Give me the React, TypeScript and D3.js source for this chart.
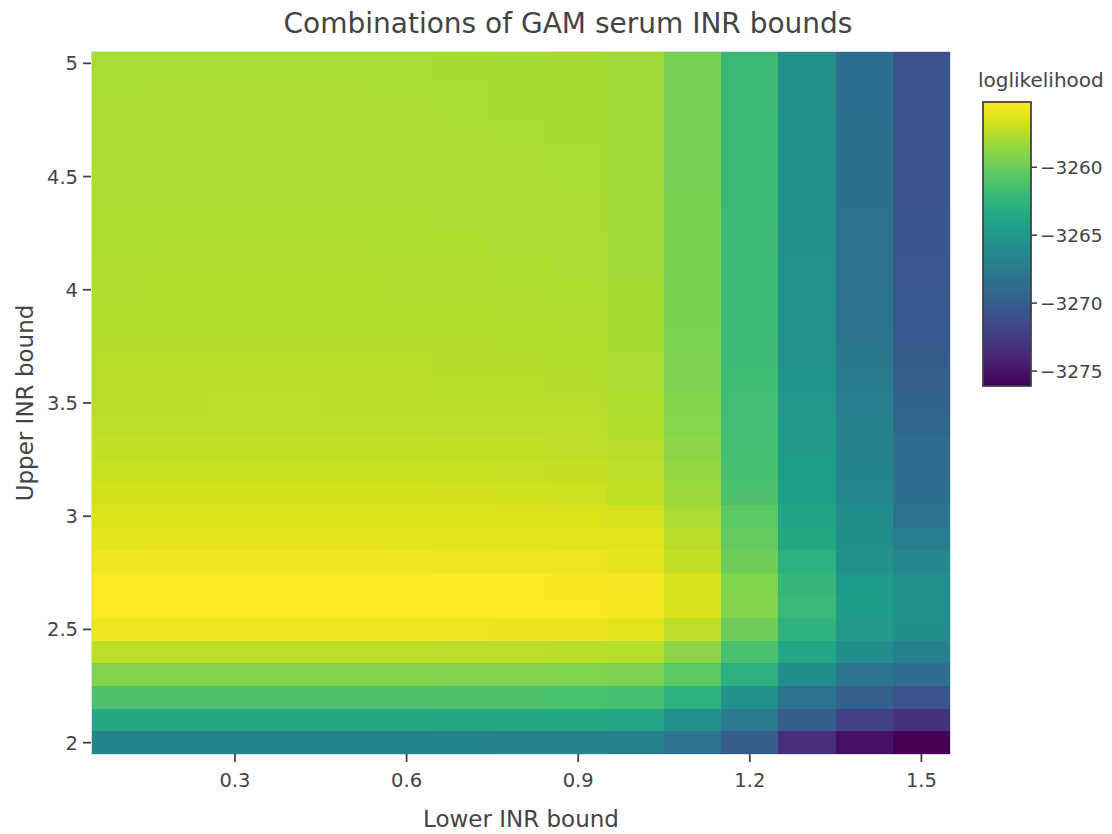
import React from 'react';
import * as d3 from 'd3';

// ---------- DATA ----------
const lowerBounds: number[] = [0.1, 0.2, 0.3, 0.4, 0.5, 0.6, 0.7, 0.8, 0.9, 1.0, 1.1, 1.2, 1.3, 1.4, 1.5];
const upperBounds: number[] = [
  2.0, 2.1, 2.2, 2.3, 2.4, 2.5, 2.6, 2.7, 2.8, 2.9,
  3.0, 3.1, 3.2, 3.3, 3.4, 3.5, 3.6, 3.7, 3.8, 3.9,
  4.0, 4.1, 4.2, 4.3, 4.4, 4.5, 4.6, 4.7, 4.8, 4.9, 5.0,
];
// one row per upper bound (2.0 .. 5.0), one value per lower bound (0.1 .. 1.5)
const loglikelihood: number[][] = [
  [-3266.80, -3266.79, -3266.78, -3266.78, -3266.79, -3266.80, -3266.81, -3266.83, -3266.85, -3267.10, -3268.20, -3270.05, -3273.40, -3275.25, -3276.10],
  [-3263.55, -3263.54, -3263.53, -3263.53, -3263.54, -3263.55, -3263.56, -3263.58, -3263.60, -3263.90, -3265.65, -3267.50, -3270.00, -3272.10, -3273.20],
  [-3261.20, -3261.19, -3261.18, -3261.18, -3261.19, -3261.20, -3261.21, -3261.23, -3261.25, -3261.40, -3262.70, -3265.65, -3268.20, -3269.70, -3270.80],
  [-3259.20, -3259.19, -3259.18, -3259.18, -3259.19, -3259.20, -3259.21, -3259.23, -3259.25, -3259.40, -3260.50, -3262.80, -3266.00, -3268.05, -3268.60],
  [-3257.40, -3257.39, -3257.38, -3257.38, -3257.39, -3257.40, -3257.41, -3257.43, -3257.45, -3257.60, -3258.85, -3261.30, -3263.80, -3266.00, -3267.00],
  [-3255.80, -3255.79, -3255.78, -3255.78, -3255.79, -3255.80, -3255.81, -3255.83, -3255.85, -3256.10, -3257.30, -3259.90, -3262.60, -3264.90, -3265.90],
  [-3255.22, -3255.21, -3255.20, -3255.20, -3255.21, -3255.22, -3255.23, -3255.25, -3255.27, -3255.50, -3256.55, -3259.20, -3262.10, -3264.60, -3265.65],
  [-3255.24, -3255.23, -3255.22, -3255.22, -3255.23, -3255.24, -3255.25, -3255.27, -3255.29, -3255.52, -3256.58, -3259.25, -3262.30, -3264.65, -3265.70],
  [-3255.70, -3255.69, -3255.68, -3255.68, -3255.69, -3255.70, -3255.72, -3255.75, -3255.77, -3256.00, -3257.20, -3259.90, -3262.80, -3265.65, -3266.60],
  [-3256.00, -3255.99, -3255.98, -3255.98, -3255.99, -3256.00, -3256.02, -3256.05, -3256.07, -3256.25, -3257.50, -3260.20, -3263.60, -3265.90, -3267.30],
  [-3256.35, -3256.34, -3256.33, -3256.33, -3256.34, -3256.35, -3256.37, -3256.40, -3256.42, -3256.60, -3257.90, -3260.50, -3264.00, -3266.10, -3268.20],
  [-3256.70, -3256.69, -3256.68, -3256.68, -3256.69, -3256.70, -3256.72, -3256.75, -3256.77, -3257.20, -3258.40, -3261.20, -3264.30, -3266.50, -3268.60],
  [-3257.00, -3256.99, -3256.98, -3256.98, -3256.99, -3257.00, -3257.02, -3257.05, -3257.07, -3257.40, -3258.65, -3261.40, -3264.50, -3266.70, -3268.70],
  [-3257.20, -3257.19, -3257.18, -3257.18, -3257.19, -3257.20, -3257.22, -3257.25, -3257.28, -3257.55, -3258.85, -3261.50, -3264.70, -3266.90, -3268.80],
  [-3257.35, -3257.34, -3257.33, -3257.33, -3257.34, -3257.35, -3257.37, -3257.40, -3257.43, -3257.70, -3259.10, -3261.60, -3264.90, -3267.10, -3269.20],
  [-3257.45, -3257.44, -3257.43, -3257.43, -3257.44, -3257.45, -3257.47, -3257.50, -3257.53, -3257.80, -3259.20, -3261.70, -3265.10, -3267.30, -3269.60],
  [-3257.55, -3257.54, -3257.53, -3257.53, -3257.54, -3257.55, -3257.57, -3257.60, -3257.63, -3257.90, -3259.30, -3261.80, -3265.35, -3267.60, -3269.90],
  [-3257.60, -3257.59, -3257.58, -3257.58, -3257.59, -3257.60, -3257.62, -3257.65, -3257.68, -3257.95, -3259.40, -3261.90, -3265.45, -3267.85, -3270.10],
  [-3257.65, -3257.64, -3257.63, -3257.63, -3257.64, -3257.65, -3257.67, -3257.70, -3257.73, -3258.00, -3259.43, -3261.92, -3265.50, -3268.00, -3270.25],
  [-3257.70, -3257.69, -3257.68, -3257.68, -3257.69, -3257.70, -3257.72, -3257.75, -3257.78, -3258.04, -3259.45, -3261.94, -3265.55, -3268.10, -3270.35],
  [-3257.73, -3257.72, -3257.71, -3257.71, -3257.72, -3257.73, -3257.75, -3257.78, -3257.81, -3258.07, -3259.47, -3261.95, -3265.58, -3268.20, -3270.45],
  [-3257.76, -3257.75, -3257.74, -3257.74, -3257.75, -3257.76, -3257.78, -3257.81, -3257.84, -3258.10, -3259.49, -3261.96, -3265.60, -3268.25, -3270.50],
  [-3257.80, -3257.79, -3257.78, -3257.78, -3257.79, -3257.80, -3257.82, -3257.85, -3257.88, -3258.12, -3259.51, -3261.97, -3265.62, -3268.30, -3270.55],
  [-3257.83, -3257.82, -3257.81, -3257.81, -3257.82, -3257.83, -3257.85, -3257.88, -3257.91, -3258.14, -3259.53, -3261.98, -3265.64, -3268.35, -3270.60],
  [-3257.86, -3257.85, -3257.84, -3257.84, -3257.85, -3257.86, -3257.88, -3257.91, -3257.94, -3258.16, -3259.54, -3261.99, -3265.65, -3268.40, -3270.62],
  [-3257.88, -3257.87, -3257.86, -3257.86, -3257.87, -3257.88, -3257.90, -3257.93, -3257.96, -3258.18, -3259.55, -3262.00, -3265.67, -3268.42, -3270.65],
  [-3257.90, -3257.89, -3257.88, -3257.88, -3257.89, -3257.90, -3257.92, -3257.95, -3257.98, -3258.20, -3259.56, -3262.00, -3265.68, -3268.45, -3270.67],
  [-3257.92, -3257.91, -3257.90, -3257.90, -3257.91, -3257.92, -3257.94, -3257.97, -3258.00, -3258.21, -3259.57, -3262.01, -3265.69, -3268.47, -3270.69],
  [-3257.94, -3257.93, -3257.92, -3257.92, -3257.93, -3257.94, -3257.96, -3257.99, -3258.02, -3258.22, -3259.58, -3262.02, -3265.70, -3268.49, -3270.70],
  [-3257.96, -3257.95, -3257.94, -3257.94, -3257.95, -3257.96, -3257.98, -3258.01, -3258.04, -3258.23, -3259.59, -3262.02, -3265.71, -3268.50, -3270.72],
  [-3257.98, -3257.97, -3257.96, -3257.96, -3257.97, -3257.98, -3258.00, -3258.03, -3258.06, -3258.25, -3259.60, -3262.03, -3265.72, -3268.52, -3270.73],
];
const xTickValues: number[] = [0.3, 0.6, 0.9, 1.2, 1.5];
const yTickValues: number[] = [2, 2.5, 3, 3.5, 4, 4.5, 5];
const colorbarTicks: number[] = [-3275, -3270, -3265, -3260];

const titleText = 'Combinations of GAM serum INR bounds';
const xTitle = 'Lower INR bound';
const yTitle = 'Upper INR bound';
const colorbarTitle = 'loglikelihood';

// ---------- STYLE ----------
const W = 1112;
const H = 834;
const plot = { left: 92, right: 950, top: 52, bottom: 754 };
const cb = { x: 983, y: 102, w: 48, h: 284 };
const FONT = '"DejaVu Sans", Verdana, sans-serif';
const TEXT = '#444';
const viridisStops = ['#440154', '#48186a', '#472d7b', '#424086', '#3b528b', '#33638d', '#2c728e', '#26828e',
  '#21918c', '#1fa088', '#28ae80', '#3fbc73', '#5ec962', '#84d44b', '#addc30', '#d8e219', '#fde725'];

export default function App() {
  const xStep = lowerBounds[1] - lowerBounds[0];
  const yStep = upperBounds[1] - upperBounds[0];
  const x = d3.scaleLinear()
    .domain([d3.min(lowerBounds)! - xStep / 2, d3.max(lowerBounds)! + xStep / 2])
    .range([plot.left, plot.right]);
  const y = d3.scaleLinear()
    .domain([d3.min(upperBounds)! - yStep / 2, d3.max(upperBounds)! + yStep / 2])
    .range([plot.bottom, plot.top]);

  const allZ = loglikelihood.flat();
  const zMin = d3.min(allZ)!;
  const zMax = d3.max(allZ)!;
  const viridis = d3.scaleLinear<string>()
    .domain(viridisStops.map((_, i) => i / (viridisStops.length - 1)))
    .range(viridisStops)
    .interpolate(d3.interpolateRgb);
  const norm = d3.scaleLinear().domain([zMin, zMax]).range([0, 1]).clamp(true);
  const color = (v: number) => viridis(norm(v));

  const cbScale = d3.scaleLinear().domain([zMin, zMax]).range([cb.y + cb.h, cb.y]);
  const fmtX = d3.format('.1f');
  const fmtY = (v: number) => (Number.isInteger(v) ? String(v) : d3.format('.1f')(v));
  const fmtZ = d3.format('d');

  const cells: JSX.Element[] = [];
  upperBounds.forEach((uy, ri) => {
    lowerBounds.forEach((lx, ci) => {
      const x0 = Math.round(x(lx - xStep / 2));
      const x1 = Math.round(x(lx + xStep / 2));
      const y0 = Math.round(y(uy + yStep / 2));
      const y1 = Math.round(y(uy - yStep / 2));
      cells.push(
        <rect key={`${ri}-${ci}`} x={x0} y={y0} width={x1 - x0} height={y1 - y0}
          fill={color(loglikelihood[ri][ci])} shapeRendering="crispEdges" />
      );
    });
  });

  const gradStops = d3.range(0, 1.0001, 1 / 64);

  return (
    <svg width={W} height={H} style={{ position: 'absolute', left: 0, top: 0, background: '#fff' }}
      fontFamily={FONT}>
      <defs>
        <linearGradient id="cbgrad" x1="0" y1="1" x2="0" y2="0">
          {gradStops.map((t, i) => (
            <stop key={i} offset={t} stopColor={viridis(t)} />
          ))}
        </linearGradient>
      </defs>
      <rect x={0} y={0} width={W} height={H} fill="#fff" />
      <rect x={plot.left - 0.5} y={plot.top - 0.5} width={plot.right - plot.left + 1}
        height={plot.bottom - plot.top + 1} fill="none" stroke="#d6e0ea" strokeWidth={1} />
      <g>{cells}</g>

      {/* y axis */}
      <g>
        {yTickValues.map((t) => (
          <g key={t} transform={`translate(0,${y(t)})`}>
            <line x1={plot.left - 9} x2={plot.left - 1} y1={0} y2={0} stroke={TEXT} strokeWidth={1.8} />
            <text x={plot.left - 14} y={0} dy="0.36em" textAnchor="end" fontSize={19.5} fill={TEXT}>{fmtY(t)}</text>
          </g>
        ))}
      </g>
      {/* x axis */}
      <g>
        {xTickValues.map((t) => (
          <g key={t} transform={`translate(${x(t)},0)`}>
            <line x1={0} x2={0} y1={plot.bottom} y2={plot.bottom + 8} stroke={TEXT} strokeWidth={1.8} />
            <text x={0} y={plot.bottom + 33} textAnchor="middle" fontSize={19.5} fill={TEXT}>{fmtX(t)}</text>
          </g>
        ))}
      </g>

      <text x={568} y={33} textAnchor="middle" fontSize={28} fill={TEXT}>{titleText}</text>
      <text x={(plot.left + plot.right) / 2} y={827} textAnchor="middle" fontSize={23} fill={TEXT}>{xTitle}</text>
      <text transform={`translate(33,${(plot.top + plot.bottom) / 2}) rotate(-90)`} textAnchor="middle"
        fontSize={23} fill={TEXT}>{yTitle}</text>

      {/* colorbar */}
      <text x={978} y={87} fontSize={20} fill={TEXT}>{colorbarTitle}</text>
      <rect x={cb.x} y={cb.y} width={cb.w} height={cb.h} fill="url(#cbgrad)" stroke={TEXT} strokeWidth={1.8} />
      {colorbarTicks.map((t) => (
        <g key={t} transform={`translate(0,${cbScale(t)})`}>
          <line x1={cb.x + cb.w} x2={cb.x + cb.w + 6} y1={0} y2={0} stroke={TEXT} strokeWidth={1.6} />
          <text x={cb.x + cb.w + 9} y={0} dy="0.36em" fontSize={18.5} fill={TEXT}>{fmtZ(t)}</text>
        </g>
      ))}
    </svg>
  );
}
